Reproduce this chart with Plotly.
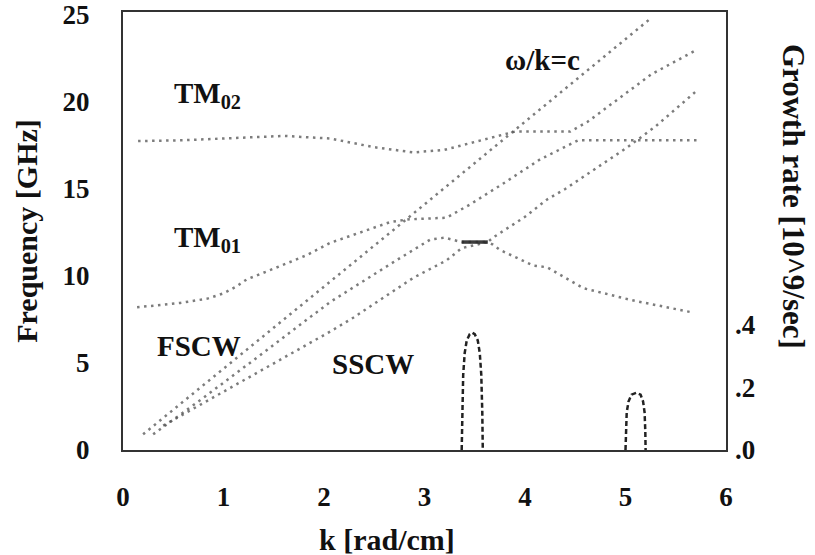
import plotly.graph_objects as go

# ---- data (k in rad/cm, f in GHz) ----
tm02_k = [0.15, 0.6, 1.0, 1.6, 2.06, 2.5, 2.89, 3.2, 3.5, 3.72, 3.9, 4.45, 4.62, 5.26, 5.71]
tm02_f = [17.75, 17.8, 17.9, 18.05, 17.9, 17.4, 17.1, 17.25, 17.7, 18.05, 18.3, 18.3, 18.85, 21.6, 23.0]

tm01_k = [0.14, 0.4, 0.57, 0.84, 1.0, 1.13, 1.23, 1.49, 1.83, 2.06, 2.4, 2.66, 2.83, 3.22, 3.45, 3.78, 4.15, 4.53, 5.71]
tm01_f = [8.2, 8.35, 8.45, 8.7, 9.0, 9.4, 9.8, 10.4, 11.2, 11.9, 12.6, 13.1, 13.25, 13.35, 14.1, 15.3, 16.7, 17.8, 17.8]

light_k = [0.2, 2.66, 5.25]
light_f = [0.9, 12.5, 24.8]

fscw_k = [0.3, 0.8, 1.33, 2.06, 2.72, 3.06, 3.2, 3.3, 3.37, 3.63, 3.68, 4.0, 4.22, 4.4, 5.02, 5.3, 5.72]
fscw_f = [0.9, 3.0, 5.3, 8.5, 10.9, 12.1, 12.2, 12.05, 11.95, 11.95, 12.2, 13.4, 14.4, 15.0, 17.4, 18.6, 20.7]

sscw_k = [0.4, 1.23, 2.06, 2.29, 2.89, 3.22, 3.37, 3.63, 3.68, 3.75, 4.08, 4.22, 4.58, 5.07, 5.67]
sscw_f = [1.4, 4.1, 6.8, 7.6, 9.9, 10.9, 11.6, 11.95, 11.8, 11.5, 10.6, 10.5, 9.3, 8.6, 7.9]

bar_k = [3.37, 3.63]
bar_f = [11.95, 11.95]

# growth rate [10^9/sec]
g1_k = [3.37, 3.375, 3.385, 3.40, 3.42, 3.45, 3.475, 3.50, 3.53, 3.55, 3.565, 3.575, 3.58]
g1_v = [0.0, 0.12, 0.24, 0.31, 0.35, 0.37, 0.375, 0.37, 0.35, 0.31, 0.24, 0.12, 0.0]
g2_k = [5.0, 5.003, 5.012, 5.03, 5.06, 5.11, 5.15, 5.175, 5.19, 5.197, 5.2]
g2_v = [0.0, 0.06, 0.12, 0.155, 0.177, 0.183, 0.177, 0.155, 0.12, 0.06, 0.0]

x_ticks = [0, 1, 2, 3, 4, 5, 6]
y_ticks = [0, 5, 10, 15, 20, 25]
y2_ticks = [0.0, 0.2, 0.4]
y2_text = [".0", ".2", ".4"]

labels = [("TM<sub>02</sub>", 0.49, 20.4), ("TM<sub>01</sub>", 0.49, 12.1),
          ("FSCW", 0.32, 5.98), ("SSCW", 2.06, 4.94), ("ω/k=c", 3.78, 22.4)]

FONT = "Liberation Serif"
DOT = dict(color="rgba(80,80,80,0.75)", width=2.5, dash="2.5px,4.5px")

fig = go.Figure()
for k, f in [(tm02_k, tm02_f), (tm01_k, tm01_f), (light_k, light_f), (fscw_k, fscw_f), (sscw_k, sscw_f)]:
    fig.add_trace(go.Scatter(x=k, y=f, mode="lines", line=DOT, showlegend=False))
fig.add_trace(go.Scatter(x=bar_k, y=bar_f, mode="lines",
                         line=dict(color="rgba(40,40,40,0.9)", width=3.5), showlegend=False))
for k, v in [(g1_k, g1_v), (g2_k, g2_v)]:
    fig.add_trace(go.Scatter(x=k, y=v, mode="lines", yaxis="y2",
                             line=dict(color="#222", width=2.5, dash="5px,3px"), showlegend=False))

for txt, x, y in labels:
    fig.add_annotation(x=x, y=y, text=txt, showarrow=False, xanchor="left", yanchor="middle",
                       font=dict(family=FONT, size=29, color="#111", weight="bold"))

axfont = dict(family=FONT, size=27, color="#111", weight="bold")
titlefont = dict(family=FONT, size=30, color="#111", weight="bold")
titlefont_r = dict(family=FONT, size=31, color="#111", weight="bold")

# x-axis title sits left of centre in the reference
fig.add_annotation(xref="paper", yref="paper", x=0.438, y=-0.205, text="k [rad/cm]",
                   showarrow=False, xanchor="center", yanchor="middle", font=titlefont)
# right-hand axis title reads top-to-bottom in the reference
fig.add_annotation(xref="paper", yref="paper", x=1.111, y=0.578, text="Growth rate [10^9/sec]",
                   textangle=90, showarrow=False, xanchor="center", yanchor="middle",
                   font=titlefont_r)

fig.update_layout(
    width=815, height=555, margin=dict(l=123, r=89, t=12, b=105, autoexpand=False),
    plot_bgcolor="white", paper_bgcolor="white",
    xaxis=dict(range=[0, 6], tickvals=x_ticks, showgrid=False, zeroline=False,
               showline=True, mirror=True, linecolor="#333", linewidth=2, automargin=False,
               tickfont=axfont, ticks="", ticklabelstandoff=22),
    yaxis=dict(range=[0, 25.17], tickvals=y_ticks, showgrid=False, zeroline=False,
               showline=True, mirror=True, linecolor="#333", linewidth=2, automargin=False,
               tickfont=axfont, ticks="", ticklabelstandoff=26,
               title=dict(text="Frequency [GHz]", font=titlefont, standoff=16)),
    yaxis2=dict(overlaying="y", side="right", range=[0, 1.4], tickvals=y2_ticks,
                ticktext=y2_text, showgrid=False, zeroline=False, showline=False,
                automargin=False, tickfont=axfont, ticks="", ticklabelstandoff=8),
)

fig.write_html("out.html")
